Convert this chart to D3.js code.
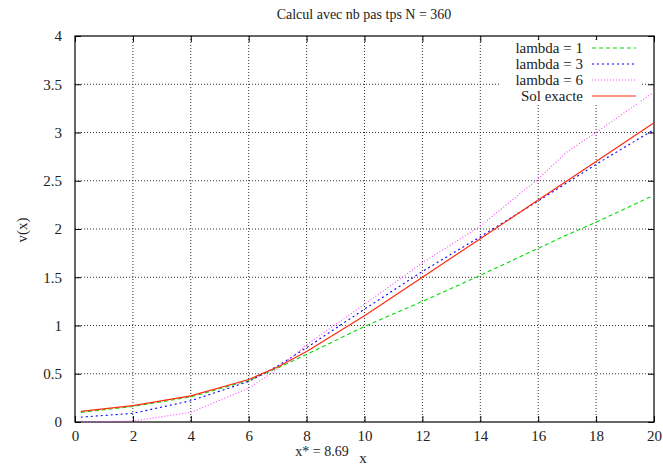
<!DOCTYPE html>
<html>
<head>
<meta charset="utf-8">
<script src="https://cdn.jsdelivr.net/npm/d3@7"></script>
<style>
  body { margin: 0; background: #fff; }
</style>
</head>
<body>
<script>
// values
var xs = [0.2, 2, 4, 6, 7, 8, 10, 12, 14, 16, 17, 18, 20];
var lambda1 = [0.10, 0.16, 0.26, 0.43, 0.56, 0.70, 0.99, 1.25, 1.52, 1.80, 1.94, 2.07, 2.35];
var lambda3 = [0.05, 0.09, 0.22, 0.42, 0.58, 0.77, 1.17, 1.56, 1.92, 2.29, 2.48, 2.67, 3.03];
var lambda6 = [0.00, 0.01, 0.10, 0.35, 0.55, 0.80, 1.22, 1.65, 2.03, 2.52, 2.80, 3.00, 3.42];
var exacte  = [0.11, 0.17, 0.27, 0.44, 0.57, 0.73, 1.10, 1.50, 1.90, 2.30, 2.50, 2.70, 3.10];
var xTicks = [0, 2, 4, 6, 8, 10, 12, 14, 16, 18, 20];
var yTicks = [0, 0.5, 1, 1.5, 2, 2.5, 3, 3.5, 4];
var seriesNames = ["lambda = 1", "lambda = 3", "lambda = 6", "Sol exacte"];
var seriesColors = ["#00dd00", "#0000ff", "#ff44ff", "#ff2a10"];
var seriesDash = ["4,3", "2,3", "1,2", null];
var title = "Calcul avec nb pas tps N = 360";
var xStar = "x* = 8.69";

var serif = "Liberation Serif";
var width = 663, height = 465;
var margin = {top: 36, right: 9, bottom: 43, left: 75};
var w = width - margin.left - margin.right;
var h = height - margin.top - margin.bottom;

var svg = d3.select("body").append("svg")
    .attr("width", width)
    .attr("height", height);

var g = svg.append("g")
    .attr("transform", "translate(" + margin.left + "," + margin.top + ")");

var xScale = d3.scaleLinear().domain([0, 20]).range([0, w]);
var yScale = d3.scaleLinear().domain([0, 4]).range([h, 0]);
var fmt = function(d) { return String(d); };

// grid (dotted)
g.append("g").selectAll("line").data(xTicks.slice(1, -1)).enter().append("line")
    .attr("x1", function(d) { return xScale(d); })
    .attr("x2", function(d) { return xScale(d); })
    .attr("y1", 0).attr("y2", h)
    .attr("stroke", "#333").attr("stroke-width", 1)
    .attr("stroke-dasharray", "1,2");
g.append("g").selectAll("line").data(yTicks.slice(1, -1)).enter().append("line")
    .attr("x1", 0).attr("x2", w)
    .attr("y1", function(d) { return yScale(d); })
    .attr("y2", function(d) { return yScale(d); })
    .attr("stroke", "#333").attr("stroke-width", 1)
    .attr("stroke-dasharray", "1,2");

// axes with inward ticks, mirrored
var axB = g.append("g").attr("transform", "translate(0," + h + ")")
    .call(d3.axisBottom(xScale).tickValues(xTicks).tickSizeInner(-6).tickSizeOuter(0).tickPadding(8).tickFormat(fmt));
var axT = g.append("g")
    .call(d3.axisTop(xScale).tickValues(xTicks).tickSizeInner(-6).tickSizeOuter(0).tickFormat(""));
var axL = g.append("g")
    .call(d3.axisLeft(yScale).tickValues(yTicks).tickSizeInner(-6).tickSizeOuter(0).tickPadding(13).tickFormat(fmt));
var axR = g.append("g").attr("transform", "translate(" + w + ",0)")
    .call(d3.axisRight(yScale).tickValues(yTicks).tickSizeInner(-6).tickSizeOuter(0).tickFormat(""));
[axB, axT, axL, axR].forEach(function(a) {
  a.attr("font-size", 15);
  a.select(".domain").remove();
  a.selectAll("line").attr("stroke", "#000");
  a.selectAll("text").attr("fill", "#222").style("font-family", serif);
});

// frame
g.append("rect").attr("width", w).attr("height", h)
    .attr("fill", "none").attr("stroke", "#000").attr("stroke-width", 1.2);

// curves
var allSeries = [lambda1, lambda3, lambda6, exacte];
var line = d3.line()
    .x(function(d, i) { return xScale(xs[i]); })
    .y(function(d) { return yScale(d); });

allSeries.forEach(function(s, k) {
  g.append("path")
    .datum(s)
    .attr("d", line)
    .attr("fill", "none")
    .attr("stroke", seriesColors[k])
    .attr("stroke-width", k == 3 ? 1.2 : 1.1)
    .attr("stroke-dasharray", seriesDash[k]);
});

// legend
var legend = svg.append("g").attr("font-size", 15);
seriesNames.forEach(function(name, k) {
  var y = 48 + k * 16;
  legend.append("rect")
    .attr("x", 500).attr("y", y - 8).attr("width", 140).attr("height", 16)
    .attr("fill", "#fff");
});
seriesNames.forEach(function(name, k) {
  var y = 48 + k * 16;
  legend.append("text")
    .attr("x", 583).attr("y", y + 5)
    .attr("text-anchor", "end")
    .attr("fill", "#222")
    .style("font-family", serif)
    .text(name);
  legend.append("line")
    .attr("x1", 592).attr("x2", 636)
    .attr("y1", y).attr("y2", y)
    .attr("stroke", seriesColors[k])
    .attr("stroke-width", 1.2)
    .attr("stroke-dasharray", seriesDash[k]);
});

// title and labels
var labels = svg.append("g").attr("font-size", 15).attr("fill", "#222");
labels.append("text")
    .attr("x", 364).attr("y", 19)
    .attr("text-anchor", "middle")
    .attr("font-size", 14)
    .style("font-family", serif)
    .text(title);

labels.append("text")
    .attr("x", 322).attr("y", 456)
    .attr("text-anchor", "middle")
    .attr("font-size", 14)
    .style("font-family", serif)
    .text(xStar);

labels.append("text")
    .attr("x", 363).attr("y", 463)
    .attr("text-anchor", "middle")
    .style("font-family", serif)
    .text("x");

labels.append("text")
    .attr("transform", "translate(27,230) rotate(-90)")
    .attr("text-anchor", "middle")
    .style("font-family", serif)
    .text("v(x)");
</script>
</body>
</html>
